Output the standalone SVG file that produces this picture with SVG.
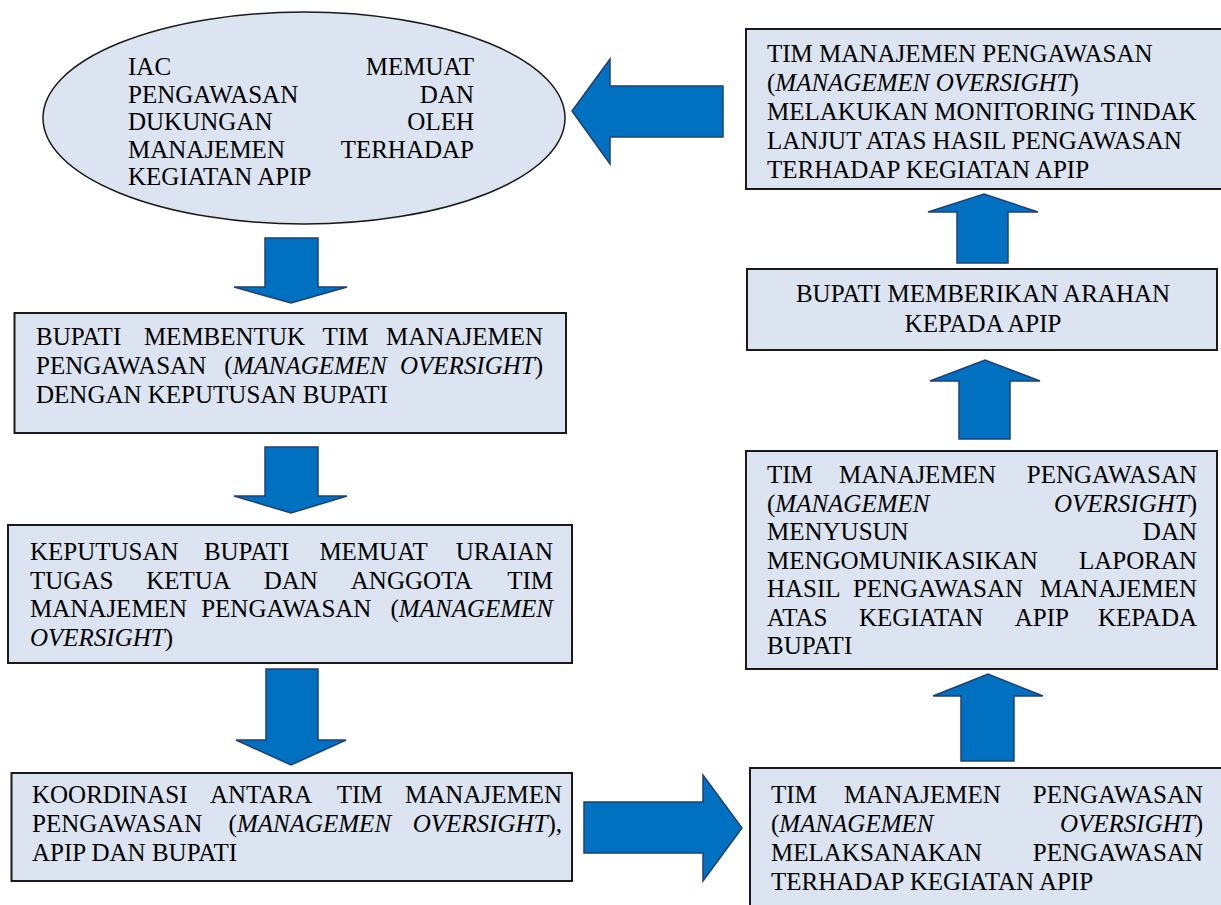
<svg xmlns="http://www.w3.org/2000/svg" width="1221" height="905" viewBox="0 0 1221 905">
<style>
.box{fill:#dbe4f0;stroke:#1a1a1a;stroke-width:2}
.arr{fill:#0070c0;stroke:#1f3f77;stroke-width:1.5;stroke-linejoin:miter}
text{font-family:"Liberation Serif","Times New Roman",serif;font-size:25px;fill:#000}
.e{text-anchor:end}
.m{text-anchor:middle}
.i{font-style:italic}
</style>
<rect width="1221" height="905" fill="#ffffff"/>
<g id="connectors">
<polygon class="arr" points="265,238 318,238 318,287 347,287 291,303 234,287 265,287"/>
<polygon class="arr" points="265,447 318,447 318,496 347,496 291,513 234,496 265,496"/>
<polygon class="arr" points="266,669 318,669 318,740 346,740 291,765 236,740 266,740"/>
<polygon class="arr" points="584,802 703,802 703,775 742,828 703,881 703,853 584,853"/>
<polygon class="arr" points="961,761 1014,761 1014,696 1043,696 988,674 933,696 961,696"/>
<polygon class="arr" points="959,439 1010,439 1010,381 1040,381 985,360 930,381 959,381"/>
<polygon class="arr" points="957,263 1008,263 1008,212 1038,212 984,194 928,212 957,212"/>
<polygon class="arr" points="723,86 723,137 610,137 610,164 572,111 610,59 610,86"/>
</g>
<g id="n1">
<ellipse class="box" cx="304" cy="118" rx="261" ry="106" style="stroke-width:1.5"/>
<text x="128" y="75">IAC</text><text class="e" x="474" y="75">MEMUAT</text>
<text x="128" y="102.5">PENGAWASAN</text><text class="e" x="474" y="102.5">DAN</text>
<text x="128" y="130">DUKUNGAN</text><text class="e" x="474" y="130">OLEH</text>
<text x="128" y="157.5">MANAJEMEN</text><text class="e" x="474" y="157.5">TERHADAP</text>
<text x="128" y="185">KEGIATAN APIP</text>
</g>
<g id="n2">
<rect class="box" x="14.5" y="313" width="551.5" height="120"/>
<text x="36" y="345">BUPATI</text><text x="143.9" y="345">MEMBENTUK</text><text x="322.6" y="345">TIM</text><text class="e" x="543" y="345">MANAJEMEN</text>
<text x="36" y="374">PENGAWASAN</text><text x="224.3" y="374">(<tspan class="i">MANAGEMEN</tspan></text><text class="e" x="543" y="374"><tspan class="i">OVERSIGHT</tspan>)</text>
<text x="36" y="403">DENGAN KEPUTUSAN BUPATI</text>
</g>
<g id="n3">
<rect class="box" x="8" y="525" width="564" height="138"/>
<text x="30" y="560">KEPUTUSAN</text><text x="203.9" y="560">BUPATI</text><text x="319.4" y="560">MEMUAT</text><text class="e" x="553" y="560">URAIAN</text>
<text x="30" y="588.5">TUGAS</text><text x="146.2" y="588.5">KETUA</text><text x="263.7" y="588.5">DAN</text><text x="350.8" y="588.5">ANGGOTA</text><text class="e" x="553" y="588.5">TIM</text>
<text x="30" y="617">MANAJEMEN</text><text x="201.2" y="617">PENGAWASAN</text><text class="e" x="553" y="617">(<tspan class="i">MANAGEMEN</tspan></text>
<text x="30" y="645.5"><tspan class="i">OVERSIGHT</tspan>)</text>
</g>
<g id="n4">
<rect class="box" x="11.5" y="773" width="560.5" height="108"/>
<text x="32" y="803">KOORDINASI</text><text x="210" y="803">ANTARA</text><text x="336.7" y="803">TIM</text><text class="e" x="562" y="803">MANAJEMEN</text>
<text x="32" y="832">PENGAWASAN</text><text x="228.6" y="832">(<tspan class="i">MANAGEMEN</tspan></text><text class="e" x="562" y="832"><tspan class="i">OVERSIGHT</tspan>),</text>
<text x="32" y="861">APIP DAN BUPATI</text>
</g>
<g id="n5">
<rect class="box" x="750" y="768" width="480" height="150"/>
<text x="771" y="803">TIM</text><text x="843.9" y="803">MANAJEMEN</text><text class="e" x="1203" y="803">PENGAWASAN</text>
<text x="771" y="832">(<tspan class="i">MANAGEMEN</tspan></text><text class="e" x="1203" y="832"><tspan class="i">OVERSIGHT</tspan>)</text>
<text x="771" y="861">MELAKSANAKAN</text><text class="e" x="1203" y="861">PENGAWASAN</text>
<text x="771" y="890">TERHADAP KEGIATAN APIP</text>
</g>
<g id="n6">
<rect class="box" x="746" y="451" width="471" height="218"/>
<text x="767" y="483">TIM</text><text x="839" y="483">MANAJEMEN</text><text class="e" x="1197" y="483">PENGAWASAN</text>
<text x="767" y="511.5">(<tspan class="i">MANAGEMEN</tspan></text><text class="e" x="1197" y="511.5"><tspan class="i">OVERSIGHT</tspan>)</text>
<text x="767" y="540">MENYUSUN</text><text class="e" x="1197" y="540">DAN</text>
<text x="767" y="568.5">MENGOMUNIKASIKAN</text><text class="e" x="1197" y="568.5">LAPORAN</text>
<text x="767" y="597">HASIL</text><text x="852.9" y="597">PENGAWASAN</text><text class="e" x="1197" y="597">MANAJEMEN</text>
<text x="767" y="625.5">ATAS</text><text x="859" y="625.5">KEGIATAN</text><text x="1014.7" y="625.5">APIP</text><text class="e" x="1197" y="625.5">KEPADA</text>
<text x="767" y="654">BUPATI</text>
</g>
<g id="n7">
<rect class="box" x="747" y="269" width="470" height="81"/>
<text class="m" x="983" y="302">BUPATI MEMBERIKAN ARAHAN</text>
<text class="m" x="983" y="332">KEPADA APIP</text>
</g>
<g id="n8">
<rect class="box" x="746" y="29" width="480" height="160"/>
<text x="767" y="62">TIM MANAJEMEN PENGAWASAN</text>
<text x="767" y="91">(<tspan class="i">MANAGEMEN OVERSIGHT</tspan>)</text>
<text x="767" y="120">MELAKUKAN MONITORING TINDAK</text>
<text x="767" y="149">LANJUT ATAS HASIL PENGAWASAN</text>
<text x="767" y="178">TERHADAP KEGIATAN APIP</text>
</g>
</svg>
